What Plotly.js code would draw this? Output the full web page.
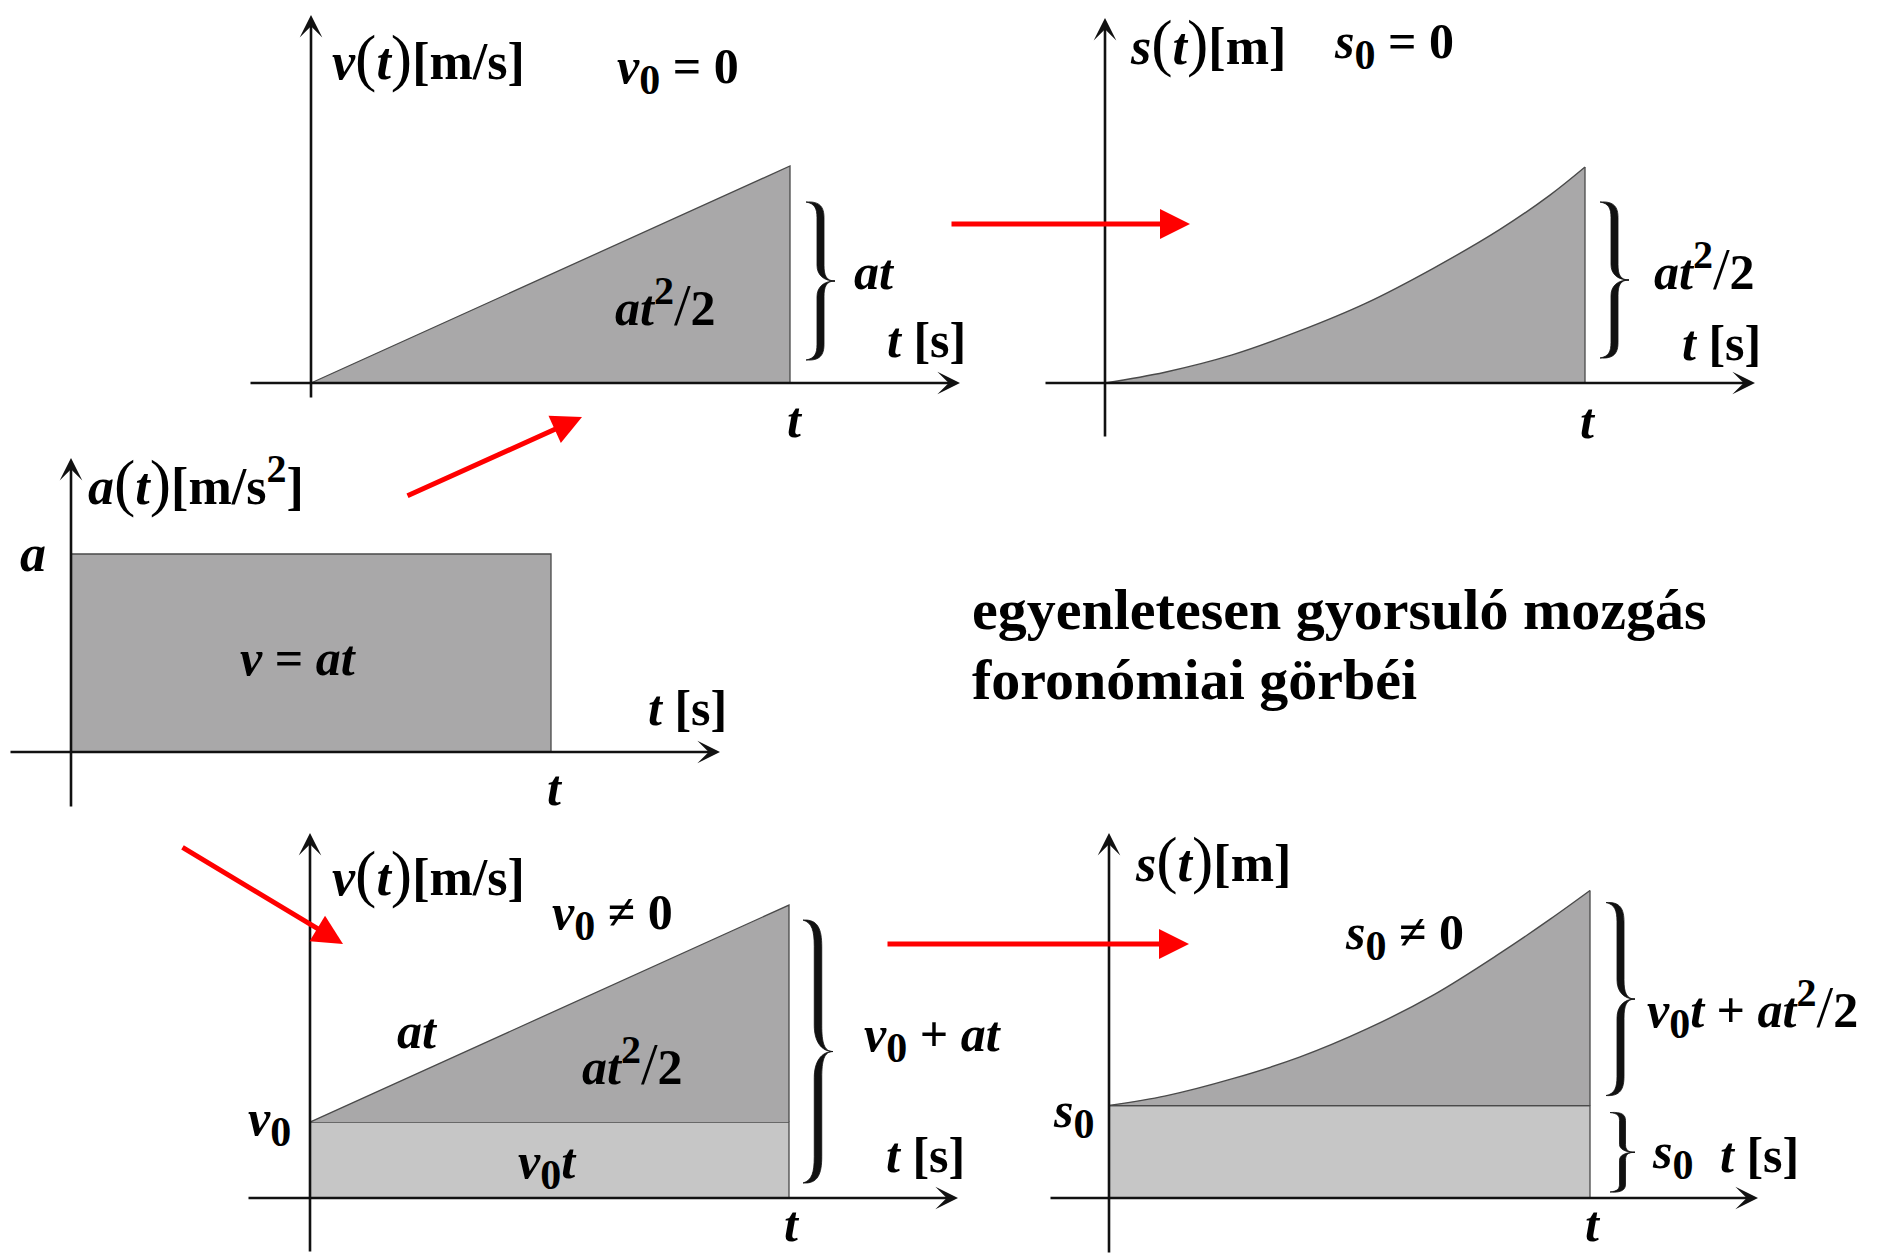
<!DOCTYPE html>
<html>
<head>
<meta charset="utf-8">
<script src="https://cdn.plot.ly/plotly-3.0.1.min.js"></script>
<style>
  html, body { margin: 0; padding: 0; background: #ffffff; }
  #chart { width: 1890px; height: 1254px; }
</style>
</head>
<body>
<div id="chart"></div>
<script>
// Kinematic curves of uniformly accelerated motion (symbolic units, t = 1 at the right end)
const tEnd = 1;

// a(t): constant acceleration
const accTime = [0, 1];
const accValue = [1, 1];

// v(t) with v0 = 0
const velTimeA = [0, 1];
const velValueA = [0, 1];

// s(t) with s0 = 0
const posTimeB = [0, 0.125, 0.265, 0.404, 0.544, 0.683, 0.822, 0.927, 1];
const posValueB = [0, 0.05, 0.13, 0.24, 0.37, 0.53, 0.71, 0.87, 1];

// v(t) with v0 != 0
const v0D = 0.35;
const velTimeD = [0, 1];
const velValueD = [0.35, 1.35];

// s(t) with s0 != 0
const s0E = 0.43;
const posTimeE = [0, 0.118, 0.257, 0.396, 0.535, 0.675, 0.814, 0.918, 1];
const posValueE = [0.43, 0.475, 0.555, 0.655, 0.785, 0.945, 1.14, 1.298, 1.43];

// ---------------------------------------------------------------
const W = 1890, H = 1254;
const FONT = 'Liberation Serif';
const DARK = '#a9a8a9';
const LIGHT = '#c6c6c6';
const EDGE = '#4a4a4a';

// panel frames: origin pixel, pixels per unit, extent of the drawn axes
const panels = [
  { x: 'x',  y: 'y',  ox: 311,  oy: 383,  ux: 479, uy: 217, xl: 250,  xr: 960,  yt: 15,  yb: 398 },
  { x: 'x2', y: 'y2', ox: 1105, oy: 383,  ux: 480, uy: 216, xl: 1045, xr: 1755, yt: 18,  yb: 437 },
  { x: 'x3', y: 'y3', ox: 71,   oy: 752,  ux: 480, uy: 198, xl: 10,   xr: 720,  yt: 458, yb: 807 },
  { x: 'x4', y: 'y4', ox: 310,  oy: 1198, ux: 479, uy: 217, xl: 248,  xr: 958,  yt: 833, yb: 1252 },
  { x: 'x5', y: 'y5', ox: 1109, oy: 1198, ux: 481, uy: 215, xl: 1050, xr: 1758, yt: 833, yb: 1253 }
];
const [PA, PB, PC, PD, PE] = panels;

const layout = {
  width: W, height: H,
  margin: { l: 0, r: 0, t: 0, b: 0 },
  paper_bgcolor: '#ffffff',
  plot_bgcolor: 'rgba(0,0,0,0)',
  showlegend: false,
  annotations: [],
  shapes: []
};

panels.forEach((p, i) => {
  const sx = i === 0 ? '' : String(i + 1);
  layout['xaxis' + sx] = {
    domain: [p.xl / W, p.xr / W],
    range: [(p.xl - p.ox) / p.ux, (p.xr - p.ox) / p.ux],
    anchor: p.y, visible: false, fixedrange: true
  };
  layout['yaxis' + sx] = {
    domain: [1 - p.yb / H, 1 - p.yt / H],
    range: [(p.oy - p.yb) / p.uy, (p.oy - p.yt) / p.uy],
    anchor: p.x, visible: false, fixedrange: true
  };
  // time axis and value axis with arrow heads
  const axisArrow = {
    xref: p.x, yref: p.y, axref: p.x, ayref: p.y, text: '', showarrow: true,
    arrowhead: 3, arrowsize: 1.45, arrowwidth: 2.6, arrowcolor: '#111111',
    standoff: 0, startstandoff: 0, borderpad: 0, font: { size: 1 }
  };
  layout.annotations.push(Object.assign({}, axisArrow, {
    x: (p.xr - p.ox) / p.ux, y: 0, ax: (p.xl - p.ox) / p.ux, ay: 0
  }));
  layout.annotations.push(Object.assign({}, axisArrow, {
    x: 0, y: (p.oy - p.yt) / p.uy, ax: 0, ay: (p.oy - p.yb) / p.uy
  }));
});

const last = arr => arr[arr.length - 1];
const traces = [];
function area(p, x, y, fill, color, extra) {
  traces.push(Object.assign({
    type: 'scatter', mode: 'lines', xaxis: p.x, yaxis: p.y, x: x, y: y,
    fill: fill, fillcolor: color, line: { color: EDGE, width: 1.3 }, hoverinfo: 'skip'
  }, extra || {}));
}
function edge(p, x, y) {
  traces.push({
    type: 'scatter', mode: 'lines', xaxis: p.x, yaxis: p.y, x: x, y: y,
    line: { color: EDGE, width: 1.3 }, hoverinfo: 'skip'
  });
}
const curveLine = { color: EDGE, width: 1.4, shape: 'spline', smoothing: 1 };

// top left: v(t), v0 = 0
area(PA, velTimeA.concat([last(velTimeA)]), velValueA.concat([0]), 'toself', DARK);

// top right: s(t), s0 = 0
area(PB, posTimeB, posValueB, 'tozeroy', DARK, { line: curveLine });
edge(PB, [tEnd, tEnd], [0, last(posValueB)]);

// middle: a(t)
area(PC, [accTime[0]].concat(accTime, [last(accTime)]), [0].concat(accValue, [0]), 'toself', DARK);

// bottom left: v(t), v0 != 0
area(PD, [velTimeD[0], velTimeD[0], last(velTimeD), last(velTimeD)], [0, v0D, v0D, 0], 'toself', LIGHT);
area(PD, velTimeD.concat([last(velTimeD)]), velValueD.concat([v0D]), 'toself', DARK);

// bottom right: s(t), s0 != 0
area(PE, [posTimeE[0], posTimeE[0], last(posTimeE), last(posTimeE)], [0, s0E, s0E, 0], 'toself', LIGHT);
edge(PE, [posTimeE[0], last(posTimeE)], [s0E, s0E]);
area(PE, posTimeE, posValueE, 'tonexty', DARK, { line: curveLine });
edge(PE, [tEnd, tEnd], [s0E, last(posValueE)]);

// curly braces next to the value interval at t
function brace(p, lo, hi, off, w, insetTop, insetBot, th) {
  const xL = p.ox + tEnd * p.ux + off;
  const y0 = p.oy - hi * p.uy + insetTop;
  const y1 = p.oy - lo * p.uy - insetBot;
  const h = y1 - y0, ym = (y0 + y1) / 2;
  const xA = xL + 0.5 * w, xT = xL + w, t = th / 2;
  const c = Math.max(7, 0.1 * h);
  const P = (X, Y) => ((X - p.ox) / p.ux).toFixed(5) + ',' + ((p.oy - Y) / p.uy).toFixed(5);
  const d =
    'M' + P(xL, y0) +
    ' C' + P(xA, y0 - 1) + ' ' + P(xA + t, y0 + 0.35 * c) + ' ' + P(xA + t, y0 + c) +
    ' L' + P(xA + t, ym - c) +
    ' C' + P(xA + t, ym - 0.35 * c) + ' ' + P(xT - 0.3 * w, ym) + ' ' + P(xT, ym) +
    ' C' + P(xT - 0.3 * w, ym) + ' ' + P(xA + t, ym + 0.35 * c) + ' ' + P(xA + t, ym + c) +
    ' L' + P(xA + t, y1 - c) +
    ' C' + P(xA + t, y1 - 0.35 * c) + ' ' + P(xA, y1 + 1) + ' ' + P(xL, y1) +
    ' C' + P(xA - 0.2 * w, y1 - 0.1 * c) + ' ' + P(xA - t, y1 - 0.4 * c) + ' ' + P(xA - t, y1 - c) +
    ' L' + P(xA - t, ym + c) +
    ' C' + P(xA - t, ym + 0.4 * c) + ' ' + P(xT - 0.4 * w, ym) + ' ' + P(xT, ym) +
    ' C' + P(xT - 0.4 * w, ym) + ' ' + P(xA - t, ym - 0.4 * c) + ' ' + P(xA - t, ym - c) +
    ' L' + P(xA - t, y0 + c) +
    ' C' + P(xA - t, y0 + 0.4 * c) + ' ' + P(xA - 0.2 * w, y0 + 0.1 * c) + ' ' + P(xL, y0) + ' Z';
  layout.shapes.push({
    type: 'path', xref: p.x, yref: p.y, path: d,
    fillcolor: '#111111', line: { width: 0.8, color: '#111111' }, layer: 'above'
  });
}
brace(PA, 0, last(velValueA), 16, 29, 36, 23, 7);
brace(PB, 0, last(posValueB), 15, 29, 35, 25, 7);
brace(PD, 0, last(velValueD), 14, 30, 15, 15, 7.5);
brace(PE, s0E, last(posValueE), 16, 29, 12, 10, 7);
brace(PE, 0, s0E, 20, 25, 7, 6, 6);

// text labels
function lab(text, px, py, xanchor, size, yanchor) {
  const ya = yanchor || 'middle';
  layout.annotations.push({
    xref: 'paper', yref: 'paper', x: px / W, y: ya === 'bottom' ? 0 : 1 - py / H,
    xanchor: xanchor || 'left', yanchor: ya, showarrow: false,
    text: text, font: { family: FONT, size: size || 50, color: '#000000' }
  });
}
const bi = s => '<b><i>' + s + '</i></b>';
const par = s => '<span style="font-size:64px;font-weight:normal">' + s + '</span>';
const sub0 = '<sub><b><span style="font-size:42px">0</span></b></sub>';
const sup2 = '<sup><b><span style="font-size:40px">2</span></b></sup>';
const slash = '<span style="font-size:60px;font-weight:normal">/</span>';
const half = bi('at') + sup2 + slash + '<b>2</b>';
const tUnit = bi('t') + '<b> [s]</b>';

const vTitle = bi('v') + par('(') + bi('t') + par(')') + '<b>[m/s]</b>';
const sTitle = bi('s') + par('(') + bi('t') + par(')') + '<b>[m]</b>';
const aTitle = bi('a') + par('(') + bi('t') + par(')') + '<b>[m/s' + sup2 + ']</b>';

// top left
lab(vTitle, 330, 58, 'left', 52);
lab(bi('v') + sub0 + '<b> = 0</b>', 615, 70);
lab(half, 665, 303, 'center');
lab(bi('at'), 852, 272);
lab(tUnit, 885, 340);
lab(bi('t'), 795, 420, 'center');

// top right
lab(sTitle, 1128, 43, 'left', 52);
lab(bi('s') + sub0 + '<b> = 0</b>', 1332, 45);
lab(half, 1652, 267);
lab(tUnit, 1680, 343);
lab(bi('t'), 1588, 421, 'center');

// middle
lab(aTitle, 86, 482, 'left', 52);
lab(bi('a'), 33, 553, 'center', 52);
lab('<b><i>v</i> = <i>at</i></b>', 298, 658, 'center');
lab(tUnit, 646, 708);
lab(bi('t'), 555, 788, 'center');

// bottom left
lab(vTitle, 330, 873, 'left', 52);
lab(bi('v') + sub0 + '<b> ≠ 0</b>', 550, 916);
lab(bi('at'), 395, 1031);
lab(half, 632, 1062, 'center');
lab(bi('v') + sub0 + bi('t'), 547, 1165, 'center');
lab(bi('v') + sub0, 293, 1122, 'right');
lab(bi('v') + sub0 + '<b> + </b>' + bi('at'), 862, 1038);
lab(tUnit, 884, 1155);
lab(bi('t'), 792, 0, 'center', 50, 'bottom');

// bottom right
lab(sTitle, 1133, 860, 'left', 52);
lab(bi('s') + sub0 + '<b> ≠ 0</b>', 1343, 936);
lab(bi('s') + sub0, 1096, 1114, 'right');
lab(bi('v') + sub0 + bi('t') + '<b> + </b>' + half, 1645, 1008);
lab(bi('s') + sub0, 1650, 1155);
lab(tUnit, 1718, 1155);
lab(bi('t'), 1593, 0, 'center', 50, 'bottom');

// caption
lab('<b>egyenletesen gyorsuló mozgás</b>', 970, 609, 'left', 58);
lab('<b>foronómiai görbéi</b>', 970, 679, 'left', 58);

// red arrows linking the panels: [tailX, tailY, tipX, tipY]
const links = [
  [951, 224, 1190, 224],
  [407, 496, 582, 417],
  [182, 847, 343, 944],
  [887, 944, 1189, 944]
];
links.forEach(l => {
  layout.annotations.push({
    xref: 'paper', yref: 'paper', x: l[2] / W, y: 1 - l[3] / H,
    ax: l[0] - l[2], ay: l[1] - l[3], text: '', showarrow: true,
    arrowhead: 2, arrowsize: 1.2, arrowwidth: 5, arrowcolor: '#ff0000',
    standoff: 0, borderpad: 0, font: { size: 1 }
  });
});

Plotly.newPlot('chart', traces, layout, { staticPlot: true, displayModeBar: false });
</script>
</body>
</html>
